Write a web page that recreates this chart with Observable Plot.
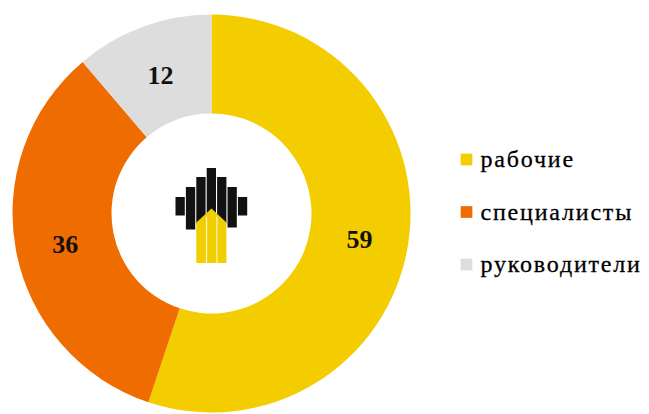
<!DOCTYPE html>
<html>
<head>
<meta charset="utf-8">
<script src="https://cdn.jsdelivr.net/npm/d3@7"></script>
<script src="https://cdn.jsdelivr.net/npm/@observablehq/plot@0.6"></script>
<style>
  html, body { margin: 0; padding: 0; background: #fff; }
  #chart svg { display: block; }
</style>
</head>
<body>
<div id="chart"></div>
<script>
// ---- data ----
const categories = ["рабочие", "специалисты", "руководители"];
const values = [59, 36, 12];
const colors = ["#F4CD00", "#EF6C00", "#DDDDDD"];

// ---- layout ----
const W = 649, H = 414;
const cx = 211.5, cy = 213.5, R = 199, innerR = 100;

const data = categories.map((c, i) => ({category: c, value: values[i]}));
const arcs = d3.pie().sort(null).value(d => d.value)(data);
const unitArc = d3.arc().innerRadius(innerR / R).outerRadius(1);
const labels = arcs.map(a => {
  const [x, y] = unitArc.centroid(a);
  return {x, y, text: String(a.data.value)};
});

// legend in scale units
const toX = px => (px - cx) / R;
const toY = py => (py - cy) / R;
const legend = categories.map((c, i) => ({
  category: c,
  sx: toX(466), tx: toX(480),
  y: toY(159 + i * 52.5)
}));

const colorFn = d3.scaleOrdinal(categories, colors);

function donutMark(index, scales) {
  const x0 = scales.x(0), y0 = scales.y(0), rad = scales.x(1) - scales.x(0);
  const arc = d3.arc().innerRadius(rad * innerR / R).outerRadius(rad);
  const g = d3.create("svg:g").attr("transform", `translate(${x0},${y0})`);
  const col = scales.color || colorFn;
  g.selectAll("path").data(arcs).join("path")
    .attr("d", arc)
    .attr("fill", d => col(d.data.category));
  return g.node();
}

function logoMark(index, scales) {
  const x0 = scales.x(0), y0 = scales.y(0);
  const g = d3.create("svg:g").attr("transform", `translate(${x0},${y0})`);
  const tops = [-16.5, -26.5, -36.5, -45.5, -36.5, -26.5, -16.5];
  const bottoms = [2, 16, 10, 10, 10, 14, 2];
  const bw = 9.3, step = 10.4, left = -36;
  tops.forEach((t, i) => {
    g.append("rect").attr("x", left + i * step).attr("y", t)
      .attr("width", bw).attr("height", bottoms[i] - t).attr("fill", "#111");
  });
  const yl = left + 2 * step, yr = left + 4 * step + bw;
  g.append("path")
    .attr("d", `M${yl},49.5 L${yl},9 L0,-5 L${yr},9 L${yr},49.5 Z`)
    .attr("fill", "#F0CE00");
  [left + 3 * step - 0.8, left + 4 * step - 0.8].forEach(x => {
    g.append("rect").attr("x", x).attr("y", 3).attr("width", 1.2).attr("height", 47).attr("fill", "#fff").attr("opacity", 0.8);
  });
  return g.node();
}

const plot = Plot.plot({
  width: W,
  height: H,
  margin: 0,
  x: {domain: [-1, 1], range: [cx - R, cx + R], axis: null},
  y: {domain: [-1, 1], range: [cy - R, cy + R], axis: null},
  color: {domain: categories, range: colors},
  style: {background: "#fff"},
  marks: [
    donutMark,
    logoMark,
    Plot.text(labels, {
      x: "x", y: "y", text: "text", dy: 2,
      fontFamily: "Liberation Serif, Times New Roman, serif",
      fontSize: 26, fontWeight: "bold", fill: "#111"
    }),
    Plot.dot(legend, {
      x: "sx", y: "y", fill: "category", symbol: "square", r: 6.6, stroke: null
    }),
    Plot.text(legend, {
      x: "tx", y: "y", text: "category", textAnchor: "start",
      fontFamily: "'Liberation Serif', 'Times New Roman', serif",
      fontSize: 24, fill: "#000", stroke: "#000", strokeWidth: 0.3
    })
  ]
});
plot.querySelectorAll("text").forEach(t => {
  if (/[а-я]/.test(t.textContent)) t.style.letterSpacing = "1.8px";
});
document.getElementById("chart").appendChild(plot);
</script>
</body>
</html>
